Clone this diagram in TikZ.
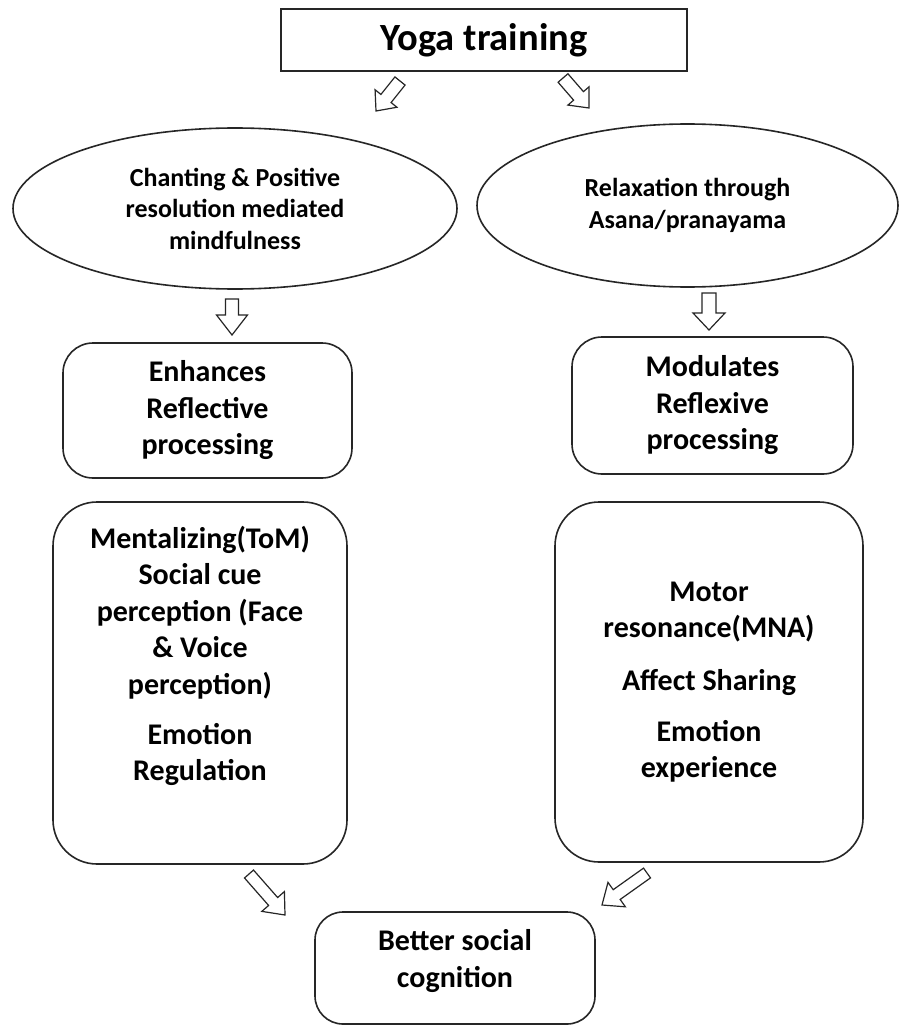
\documentclass[tikz,border=0pt]{standalone}
\usepackage{fontspec}
\setmainfont{Carlito}
\usetikzlibrary{shapes.geometric,calc}
\tikzset{
  boxline/.style={draw=black!85, line width=1.6pt},
  plainbox/.style={boxline, rectangle, inner sep=0pt, align=center},
  rbox/.style={boxline, rectangle, inner sep=0pt, align=center},
  oval/.style={boxline, ellipse, inner sep=0pt, align=center,
    font=\fontsize{26}{31.5}\selectfont\bfseries},
  boxtext/.style={align=center, inner sep=0pt, font=\fontsize{30}{36.5}\selectfont\bfseries},
  arrowline/.style={draw=black!85, line width=1.2pt, fill=white, line join=miter},
}
\newcommand\barrow[5]{%
  \coordinate (hb) at ($(#2)!#5!(#1)$);
  \draw[arrowline] ($(#1)!#3!90:(#2)$) -- ($(hb)!#3!90:(#2)$) -- ($(hb)!#4!90:(#2)$)
    -- (#2) -- ($(hb)!#4!-90:(#2)$) -- ($(hb)!#3!-90:(#2)$) -- ($(#1)!#3!-90:(#2)$) -- cycle;
}
\begin{document}
\begin{tikzpicture}[x=1pt, y=-1pt]
\useasboundingbox (0,0) rectangle (903,1027);
\fill[white] (0,0) rectangle (903,1027);

% top box
\node[plainbox, minimum width=406pt, minimum height=62pt,
  font=\fontsize{38.5}{46}\selectfont\bfseries] (yoga) at (484,40) {Yoga training};

% ellipses
\node[oval, minimum width=444pt, minimum height=161pt] (chant) at (235,208.5)
  {Chanting \& Positive\\resolution mediated\\mindfulness};
\node[oval, minimum width=421pt, minimum height=163pt] (relax) at (687.5,205.5)
  {Relaxation through\\Asana/pranayama};

% second row boxes
\node[rbox, rounded corners=30pt, minimum width=289pt, minimum height=135pt,
  font=\fontsize{30}{36.5}\selectfont\bfseries] (enh) at (207.5,410.5)
  {Enhances\\Reflective\\processing};
\node[rbox, rounded corners=30pt, minimum width=281pt, minimum height=137pt,
  font=\fontsize{30}{36.5}\selectfont\bfseries] (mod) at (712.5,405.5)
  {Modulates\\Reflexive\\processing};

% big boxes
\node[rbox, rounded corners=44pt, minimum width=294pt, minimum height=362pt] (lbig) at (200,683) {};
\node[boxtext] (ltext) at (200,656)
  {Mentalizing(ToM)\\Social cue\\perception (Face\\\& Voice\\perception)\\[13.5pt]Emotion\\Regulation};
\node[rbox, rounded corners=44pt, minimum width=308pt, minimum height=360pt] (rbig) at (709,682) {};
\node[boxtext] (rtext) at (709,682)
  {Motor\\resonance(MNA)\\[16pt]Affect Sharing\\[14.5pt]Emotion\\experience};

% bottom box
\node[rbox, rounded corners=28pt, minimum width=280pt, minimum height=112pt] (soc) at (455,968) {};
\node[boxtext] (soctext) at (455,961) {Better social\\cognition};

% block arrows
\coordinate (a1s) at (400,81);   \coordinate (a1e) at (376,111);
\coordinate (a2s) at (563,78);   \coordinate (a2e) at (589,108);
\coordinate (a3s) at (232,299);  \coordinate (a3e) at (232,335);
\coordinate (a4s) at (709,293);  \coordinate (a4e) at (709,330);
\coordinate (a5s) at (249,874);  \coordinate (a5e) at (285,915);
\coordinate (a6s) at (647,873);  \coordinate (a6e) at (602,905);
\barrow{a1s}{a1e}{6.5pt}{14pt}{16pt}
\barrow{a2s}{a2e}{6.5pt}{14pt}{16pt}
\barrow{a3s}{a3e}{6.5pt}{15.5pt}{20pt}
\barrow{a4s}{a4e}{7pt}{16pt}{17pt}
\barrow{a5s}{a5e}{6pt}{15pt}{18pt}
\barrow{a6s}{a6e}{6pt}{15pt}{18pt}
\end{tikzpicture}
\end{document}
